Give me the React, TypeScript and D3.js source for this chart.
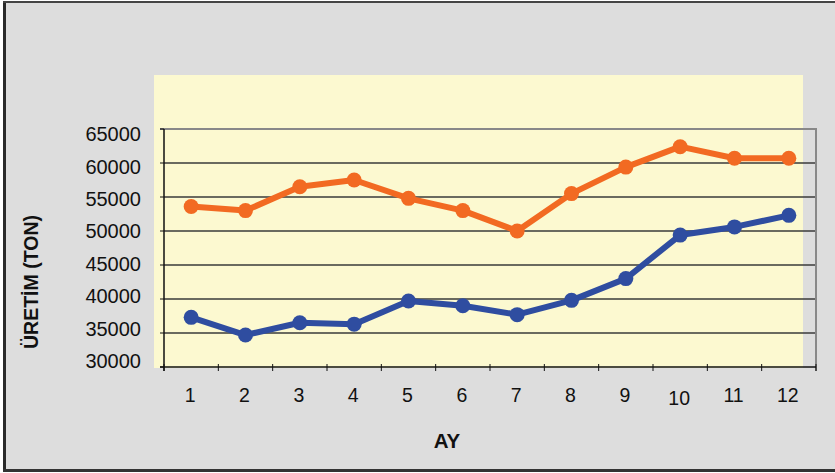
import React, { useEffect, useRef } from "react";
import * as d3 from "d3";

const width = 835;
const height = 473;

// monthly production (tons)
const months = ["1", "2", "3", "4", "5", "6", "7", "8", "9", "10", "11", "12"];
const orangeSeries = [53600, 53000, 56500, 57500, 54800, 53000, 50000, 55500, 59400, 62400, 60700, 60700];
const blueSeries = [37300, 34700, 36500, 36300, 39700, 39000, 37700, 39800, 43000, 49400, 50600, 52300];
const yTicks = [30000, 35000, 40000, 45000, 50000, 55000, 60000, 65000];

const orange = "#F26A22";
const blue = "#2F4DA0";
const font = "'Liberation Sans', Arial, sans-serif";

const plot = { left: 164, right: 816, top: 129, bottom: 367 };

export default function App() {
  const ref = useRef<SVGSVGElement>(null);

  useEffect(() => {
    const svg = d3.select(ref.current);
    svg.selectAll("*").remove();

    // background + outer frame
    svg.append("rect").attr("width", width).attr("height", height).attr("fill", "#fff");
    svg.append("rect").attr("x", 3).attr("y", 1).attr("width", width).attr("height", 469).attr("fill", "#DDDDDD");
    svg.append("line").attr("x1", 4.5).attr("x2", 4.5).attr("y1", 1).attr("y2", 470).attr("stroke", "#2a2a2a").attr("stroke-width", 3);
    svg.append("line").attr("x1", 3).attr("x2", width).attr("y1", 2).attr("y2", 2).attr("stroke", "#444").attr("stroke-width", 2);
    svg.append("line").attr("x1", 3).attr("x2", width).attr("y1", 470.5).attr("y2", 470.5).attr("stroke", "#333").attr("stroke-width", 3);

    // yellow panel (offset from the plot frame like the original)
    svg.append("rect").attr("x", 154).attr("y", 75).attr("width", 649).attr("height", 293).attr("fill", "#FCF9D0");

    const x = d3.scaleBand().domain(months).range([plot.left, plot.right]).padding(0);
    const y = d3.scaleLinear().domain([30000, 65000]).range([plot.bottom, plot.top]);
    // tick labels sit on a slightly tighter spacing than the gridlines
    const yLabel = d3.scaleLinear().domain([30000, 65000]).range([361, 134]);

    // gridlines
    svg.append("g")
      .selectAll("line")
      .data(yTicks.filter((d) => d > 30000 && d < 65000))
      .join("line")
      .attr("x1", plot.left)
      .attr("x2", plot.right)
      .attr("y1", (d) => y(d))
      .attr("y2", (d) => y(d))
      .attr("stroke", "#3a3a3a")
      .attr("stroke-width", 1.3);

    // gray plot frame (top + right)
    svg.append("path")
      .attr("d", `M${plot.left - 4},${y(65000)}H${plot.right}V${plot.bottom + 4}`)
      .attr("fill", "none")
      .attr("stroke", "#888")
      .attr("stroke-width", 2);

    // y axis
    svg.append("line")
      .attr("x1", plot.left).attr("x2", plot.left)
      .attr("y1", plot.top).attr("y2", plot.bottom + 4)
      .attr("stroke", "#111").attr("stroke-width", 1.5);
    svg.append("g")
      .selectAll("line")
      .data(yTicks)
      .join("line")
      .attr("x1", plot.left - 4)
      .attr("x2", plot.left)
      .attr("y1", (d) => y(d))
      .attr("y2", (d) => y(d))
      .attr("stroke", "#111");
    svg.append("g")
      .selectAll("text")
      .data(yTicks)
      .join("text")
      .attr("x", 141)
      .attr("y", (d) => yLabel(d))
      .attr("dy", "0.36em")
      .attr("text-anchor", "end")
      .attr("font-family", font)
      .attr("font-size", 20)
      .attr("fill", "#111")
      .text((d) => d);

    // x axis
    svg.append("line")
      .attr("x1", plot.left - 4).attr("x2", plot.right)
      .attr("y1", plot.bottom).attr("y2", plot.bottom)
      .attr("stroke", "#111").attr("stroke-width", 1.5);
    const bounds = months.map((m) => x(m) as number).concat([plot.right]);
    svg.append("g")
      .selectAll("line")
      .data(bounds)
      .join("line")
      .attr("x1", (d) => d)
      .attr("x2", (d) => d)
      .attr("y1", plot.bottom - 3)
      .attr("y2", plot.bottom + 4)
      .attr("stroke", "#111");
    svg.append("g")
      .selectAll("text")
      .data(months)
      .join("text")
      .attr("x", (d) => (x(d) as number) + x.bandwidth() / 2 - 1)
      .attr("y", (d) => (d === "10" ? 405 : 401.5))
      .attr("text-anchor", "middle")
      .attr("font-family", font)
      .attr("font-size", 19.5)
      .attr("fill", "#111")
      .text((d) => d);

    // axis titles
    svg.append("text")
      .attr("x", 447)
      .attr("y", 448)
      .attr("text-anchor", "middle")
      .attr("font-family", font)
      .attr("font-weight", "bold")
      .attr("font-size", 20.5)
      .attr("fill", "#111")
      .text("AY");
    svg.append("text")
      .attr("transform", "translate(38,282) rotate(-90)")
      .attr("text-anchor", "middle")
      .attr("font-family", font)
      .attr("font-weight", "bold")
      .attr("font-size", 19.5)
      .attr("fill", "#111")
      .text("ÜRETİM (TON)");

    // series
    const cx = (i: number) => (x(months[i]) as number) + x.bandwidth() / 2;
    const line = d3.line<number>().x((d, i) => cx(i)).y((d) => y(d));
    const series = [
      { values: orangeSeries, color: orange },
      { values: blueSeries, color: blue },
    ];
    for (const s of series) {
      svg.append("path")
        .datum(s.values)
        .attr("d", line)
        .attr("fill", "none")
        .attr("stroke", s.color)
        .attr("stroke-width", 6)
        .attr("stroke-linejoin", "round");
      svg.append("g")
        .selectAll("circle")
        .data(s.values)
        .join("circle")
        .attr("cx", (d, i) => cx(i))
        .attr("cy", (d) => y(d))
        .attr("r", 7.5)
        .attr("fill", s.color);
    }
  }, []);

  return (
    <svg
      ref={ref}
      width={width}
      height={height}
      style={{ position: "absolute", left: 0, top: 0, display: "block" }}
    />
  );
}
